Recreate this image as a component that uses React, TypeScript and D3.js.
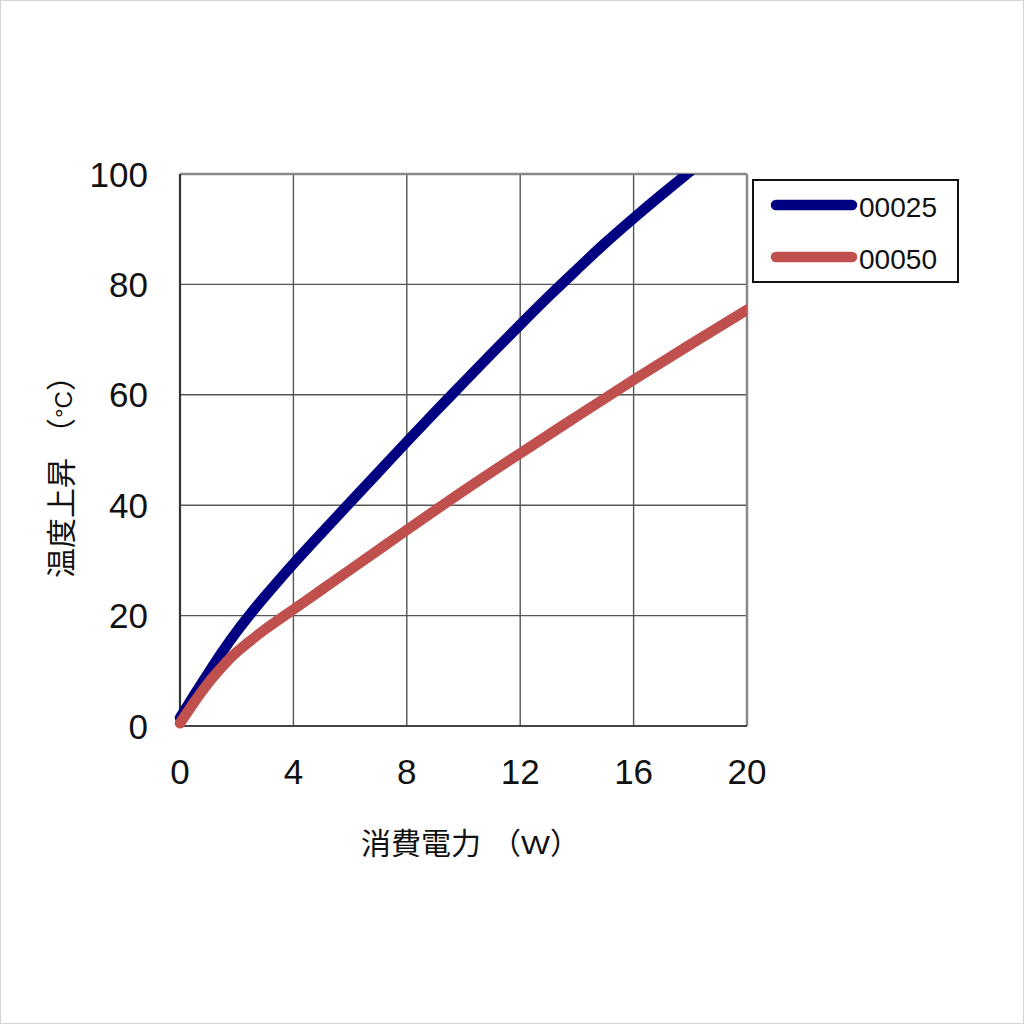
import { useRef, useEffect } from 'react';
import * as d3 from 'd3';

// power (W) vs temperature rise (°C)
const POWER_25 = [0, 0.5, 1, 1.5, 2, 2.5, 3, 4, 5, 6, 7, 8, 9, 10, 11, 12, 13, 14, 15, 16, 17, 18];
const TEMP_25 = [1.5, 5.6, 9.6, 13.5, 17.1, 20.4, 23.5, 29.4, 35.0, 40.5, 46.0, 51.5, 56.9, 62.2, 67.5, 72.7, 77.8, 82.7, 87.5, 92.0, 96.3, 100.5];

const POWER_50 = [0, 0.5, 1, 1.5, 2, 3, 4, 5, 6, 7, 8, 10, 12, 14, 16, 18, 20];
const TEMP_50 = [0.5, 4.3, 7.8, 10.8, 13.4, 17.5, 21.1, 24.7, 28.3, 31.9, 35.5, 42.6, 49.4, 56.1, 62.7, 69.1, 75.4];

const SERIES_NAMES = ['00025', '00050'];
const SERIES_COLORS = ['#000080', '#C0504D'];

const X_TICKS = [0, 4, 8, 12, 16, 20];
const Y_TICKS = [0, 20, 40, 60, 80, 100];

const X_TITLE = '消費電力';
const X_UNIT = 'W';
const Y_TITLE = '温度上昇';
const Y_UNIT = '°C';

export default function App() {
  const svgRef = useRef<SVGSVGElement>(null);

  useEffect(() => {
    if (!svgRef.current) return;
    const svg = d3.select(svgRef.current);
    svg.selectAll('*').remove();

    const width = 1024;
    const height = 1024;
    const left = 180, right = 747, top = 174, bottom = 726;

    svg.append('rect')
      .attr('x', 0.5).attr('y', 0.5).attr('width', width - 1).attr('height', height - 1)
      .attr('fill', '#fff').attr('stroke', '#d4d4d4');

    const x = d3.scaleLinear().domain([0, 20]).range([left, right]);
    const y = d3.scaleLinear().domain([0, 100]).range([bottom, top]);

    // Grid
    const grid = svg.append('g');
    X_TICKS.slice(1, -1).forEach((t) => {
      grid.append('line')
        .attr('x1', x(t)).attr('x2', x(t)).attr('y1', top).attr('y2', bottom)
        .attr('stroke', '#555').attr('stroke-width', 1.4);
    });
    Y_TICKS.slice(1, -1).forEach((t) => {
      grid.append('line')
        .attr('x1', left).attr('x2', right).attr('y1', y(t)).attr('y2', y(t))
        .attr('stroke', '#555').attr('stroke-width', 1.4);
    });

    // Frame: top/right lighter, left/bottom darker
    svg.append('line').attr('x1', left).attr('x2', right).attr('y1', top).attr('y2', top)
      .attr('stroke', '#888').attr('stroke-width', 2.5);
    svg.append('line').attr('x1', right).attr('x2', right).attr('y1', top).attr('y2', bottom)
      .attr('stroke', '#888').attr('stroke-width', 2.5);
    svg.append('line').attr('x1', left).attr('x2', right).attr('y1', bottom).attr('y2', bottom)
      .attr('stroke', '#444').attr('stroke-width', 2);
    svg.append('line').attr('x1', left).attr('x2', left).attr('y1', top).attr('y2', bottom)
      .attr('stroke', '#333').attr('stroke-width', 2.2);

    // Tick labels
    const font = '"Liberation Sans", Arial, sans-serif';
    svg.append('g').selectAll('text').data(Y_TICKS).join('text')
      .attr('x', left - 32).attr('y', (d) => y(d) + 12.5)
      .attr('text-anchor', 'end')
      .attr('font-family', font).attr('font-size', 35).attr('fill', '#111')
      .text((d) => String(d));
    svg.append('g').selectAll('text').data(X_TICKS).join('text')
      .attr('x', (d) => x(d)).attr('y', bottom + 58)
      .attr('text-anchor', 'middle')
      .attr('font-family', font).attr('font-size', 35).attr('fill', '#111')
      .text((d) => String(d));

    // Curves
    const clip = svg.append('clipPath').attr('id', 'plot-clip');
    clip.append('rect').attr('x', left - 10).attr('y', top).attr('width', right - left + 10).attr('height', bottom - top + 10);

    const line = d3.line<[number, number]>()
      .x((d) => x(d[0]))
      .y((d) => y(d[1]))
      .curve(d3.curveNatural);

    const series: [number, number][][] = [
      POWER_25.map((p, i) => [p, TEMP_25[i]]),
      POWER_50.map((p, i) => [p, TEMP_50[i]]),
    ];

    const curves = svg.append('g').attr('clip-path', 'url(#plot-clip)');
    series.forEach((pts, i) => {
      curves.append('path')
        .datum(pts)
        .attr('d', line)
        .attr('fill', 'none')
        .attr('stroke', SERIES_COLORS[i])
        .attr('stroke-width', 10.5)
        .attr('stroke-linecap', 'round')
        .attr('stroke-linejoin', 'round');
    });

    // Legend
    const lg = svg.append('g');
    lg.append('rect')
      .attr('x', 753).attr('y', 180).attr('width', 205).attr('height', 102)
      .attr('fill', '#fff').attr('stroke', '#111').attr('stroke-width', 2);
    SERIES_NAMES.forEach((name, i) => {
      const ly = 205 + i * 52;
      lg.append('line')
        .attr('x1', 776).attr('x2', 852).attr('y1', ly).attr('y2', ly)
        .attr('stroke', SERIES_COLORS[i]).attr('stroke-width', 10.5)
        .attr('stroke-linecap', 'round');
      lg.append('text')
        .attr('x', 859).attr('y', ly + 12)
        .attr('font-family', font).attr('font-size', 28).attr('fill', '#111')
        .attr('textLength', 78).attr('lengthAdjust', 'spacingAndGlyphs')
        .text(name);
    });

    // Axis titles
    const cjk = '"Noto Sans CJK JP", "Noto Sans", sans-serif';
    const xt = svg.append('text')
      .attr('x', 361).attr('y', 854)
      .attr('font-family', cjk).attr('font-size', 30).attr('fill', '#111');
    xt.append('tspan').text(X_TITLE);
    xt.append('tspan').attr('dx', 10).text('（');
    xt.append('tspan').attr('font-family', font).attr('font-size', 25)
      .attr('textLength', 29).attr('lengthAdjust', 'spacingAndGlyphs').text(X_UNIT);
    xt.append('tspan').text('）');

    const yt = svg.append('text')
      .attr('transform', `translate(72, 578) rotate(-90)`)
      .attr('font-family', cjk).attr('font-size', 30).attr('fill', '#111');
    yt.append('tspan').text(Y_TITLE);
    yt.append('tspan').attr('dx', 10).text('（');
    yt.append('tspan').attr('font-family', font).attr('font-size', 24).text(Y_UNIT);
    yt.append('tspan').text('）');
  }, []);

  return (
    <svg
      ref={svgRef}
      width={1024}
      height={1024}
      style={{ position: 'absolute', left: 0, top: 0, display: 'block' }}
    />
  );
}
